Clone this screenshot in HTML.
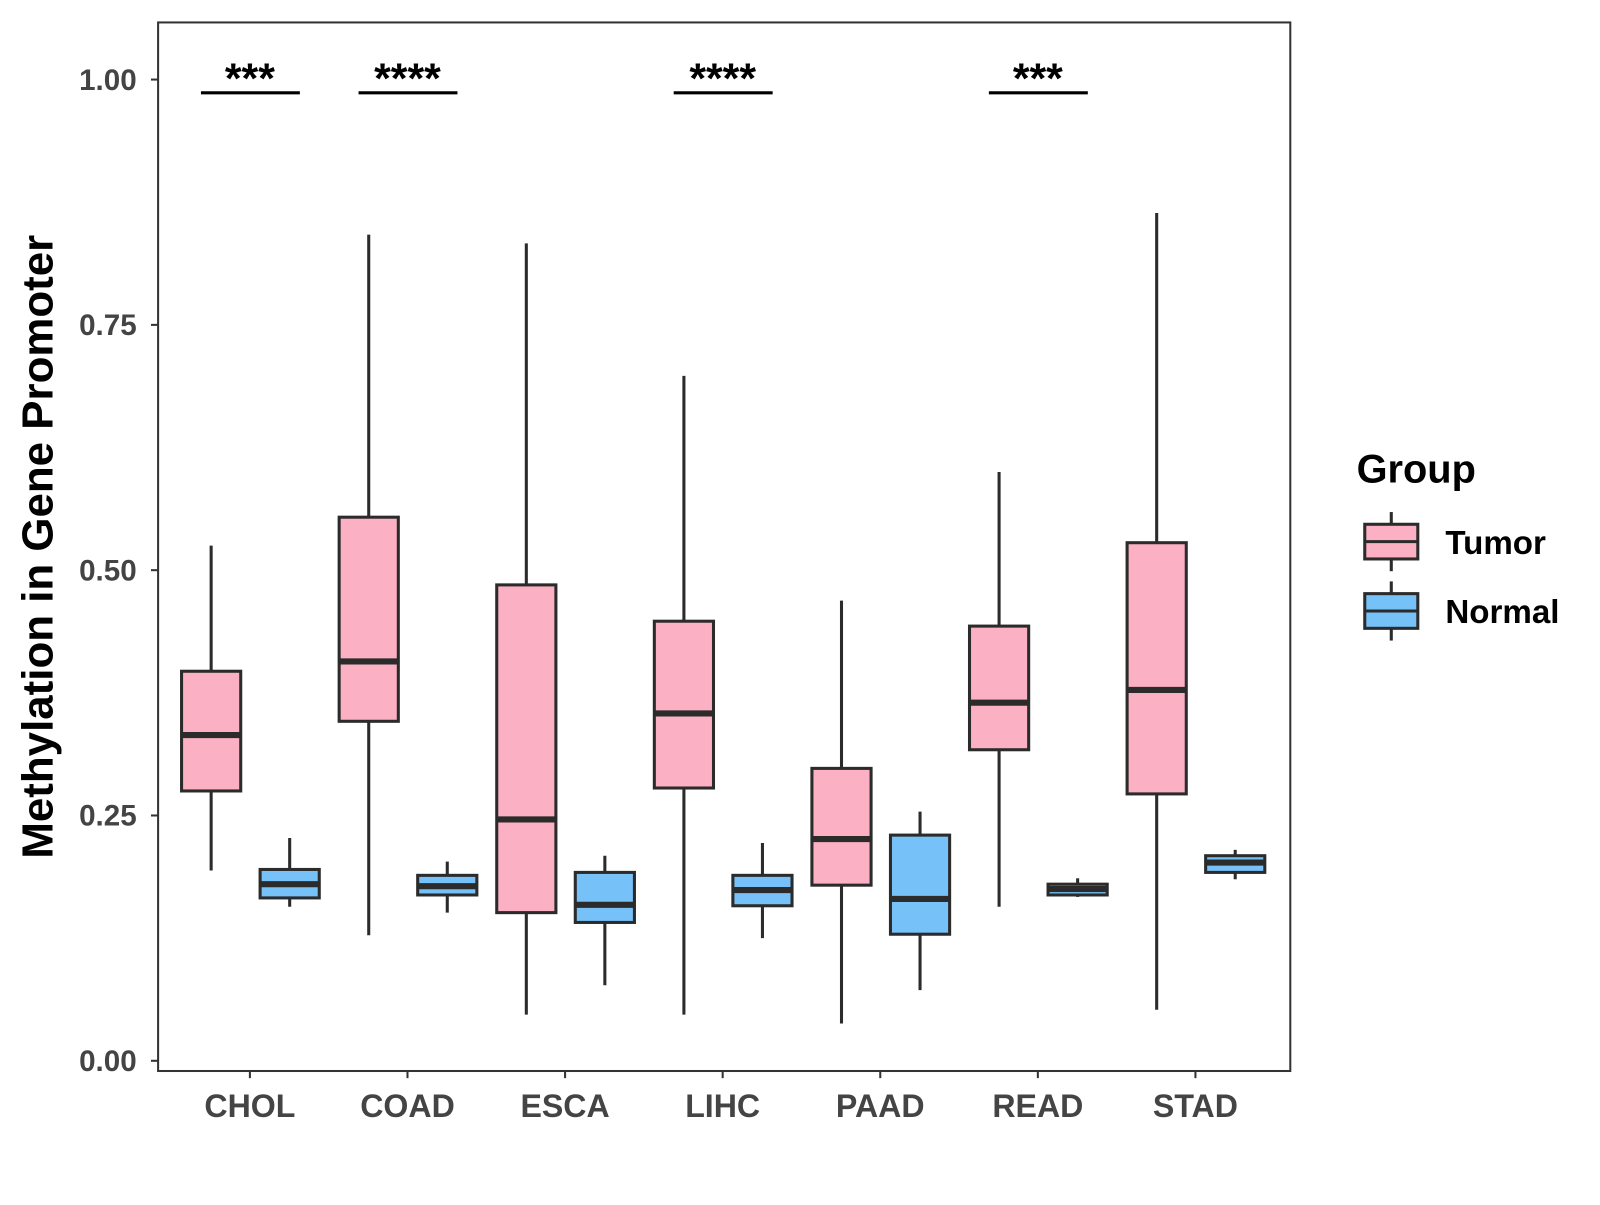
<!DOCTYPE html>
<html><head><meta charset="utf-8"><style>
html,body{margin:0;padding:0;background:#fff;}
svg text{font-family:"Liberation Sans",Arial,sans-serif;font-weight:bold;}
</style></head><body>
<svg id="chart" width="1600" height="1200" xmlns="http://www.w3.org/2000/svg">
<rect x="0" y="0" width="1600" height="1200" fill="#fff"/>
<g transform="scale(1.02)">
<rect x="155" y="22" width="1110" height="1028" fill="none" stroke="#333" stroke-width="2"/>
<g id="marks"></g>
<text x="40" y="536" transform="rotate(-90 40 536)" text-anchor="middle" font-size="43" fill="#000" dominant-baseline="middle">Methylation in Gene Promoter</text>
<g>
<text x="1330" y="473" font-size="39" fill="#000">Group</text>
<g>
<line x1="1364" y1="502" x2="1364" y2="560" stroke="#2b2b2b" stroke-width="3"/>
<rect x="1338" y="514" width="52" height="34" fill="#fbb1c3" stroke="#2b2b2b" stroke-width="3"/>
<line x1="1338" y1="531" x2="1390" y2="531" stroke="#2b2b2b" stroke-width="3"/>
<text x="1417" y="543" font-size="32.5" fill="#000">Tumor</text>
</g>
<g>
<line x1="1364" y1="570" x2="1364" y2="628" stroke="#2b2b2b" stroke-width="3"/>
<rect x="1338" y="582" width="52" height="34" fill="#76c1f7" stroke="#2b2b2b" stroke-width="3"/>
<line x1="1338" y1="599" x2="1390" y2="599" stroke="#2b2b2b" stroke-width="3"/>
<text x="1417" y="611" font-size="32.5" fill="#000">Normal</text>
</g>
</g>
</g>
</svg>
<script>
const categories=["CHOL","COAD","ESCA","LIHC","PAAD","READ","STAD"];
// [low, q1, median, q3, high]
const tumorStats=[[0.194,0.275,0.332,0.397,0.525],[0.128,0.346,0.407,0.554,0.842],[0.047,0.151,0.246,0.485,0.833],[0.047,0.278,0.354,0.448,0.698],[0.038,0.179,0.226,0.298,0.469],[0.157,0.317,0.365,0.443,0.6],[0.052,0.272,0.378,0.528,0.864]];
const normalStats=[[0.157,0.166,0.18,0.195,0.227],[0.151,0.169,0.178,0.189,0.203],[0.077,0.141,0.159,0.192,0.209],[0.125,0.158,0.174,0.189,0.222],[0.072,0.129,0.165,0.23,0.254],[0.167,0.169,0.175,0.18,0.186],[0.185,0.192,0.202,0.209,0.215]];
const yTicks=[0,0.25,0.5,0.75,1.0];
const yTickLabels=["0.00","0.25","0.50","0.75","1.00"];
const sigLabels=["***","****","","****","","***",""];

const NS="http://www.w3.org/2000/svg";
const g=document.getElementById('marks');
function yS(v){return 1040-v*962;}
function xS(i){return 245+i*154.5;}
function mk(t,a,p){const e=document.createElementNS(NS,t);for(const k in a)e.setAttribute(k,a[k]);(p||g).appendChild(e);return e;}

yTicks.forEach((v,i)=>{
  const y=yS(v);
  const l=mk('line',{x1:148,x2:155,y1:y,y2:y,stroke:'#333','stroke-width':2});
  
  
  const t=mk('text',{x:134,y:y+10,'text-anchor':'end','font-size':29,fill:'#444'});
  t.textContent=yTickLabels[i];
  
  
});
categories.forEach((c,i)=>{
  const x=xS(i);
  const l=mk('line',{x1:x,x2:x,y1:1050,y2:1057,stroke:'#333','stroke-width':2});
  
  
  const t=mk('text',{x:x,y:1095,'text-anchor':'middle','font-size':31.5,fill:'#444'});
  t.textContent=c;
  
  
});
function box(cx,s,fill,name){
  const grp=mk('g',{});
  
  
  const w=58;
  mk('line',{x1:cx,x2:cx,y1:yS(s[0]),y2:yS(s[4]),stroke:'#2b2b2b','stroke-width':3},grp);
  mk('rect',{x:cx-w/2,y:yS(s[3]),width:w,height:yS(s[1])-yS(s[3]),fill:fill,stroke:'#2b2b2b','stroke-width':3},grp);
  mk('line',{x1:cx-w/2,x2:cx+w/2,y1:yS(s[2]),y2:yS(s[2]),stroke:'#2b2b2b','stroke-width':6},grp);
}
categories.forEach((c,i)=>{
  box(xS(i)-38,tumorStats[i],'#fbb1c3','box-tumor-'+c.toLowerCase());
  box(xS(i)+39,normalStats[i],'#76c1f7','box-normal-'+c.toLowerCase());
  if(sigLabels[i]){
    const l=mk('line',{x1:xS(i)-48,x2:xS(i)+49,y1:91,y2:91,stroke:'#000','stroke-width':3});
    
    
    const t=mk('text',{x:xS(i),y:91,'text-anchor':'middle','font-size':42,fill:'#000'});
    t.textContent=sigLabels[i];
    
    
  }
});
</script>
</body></html>
